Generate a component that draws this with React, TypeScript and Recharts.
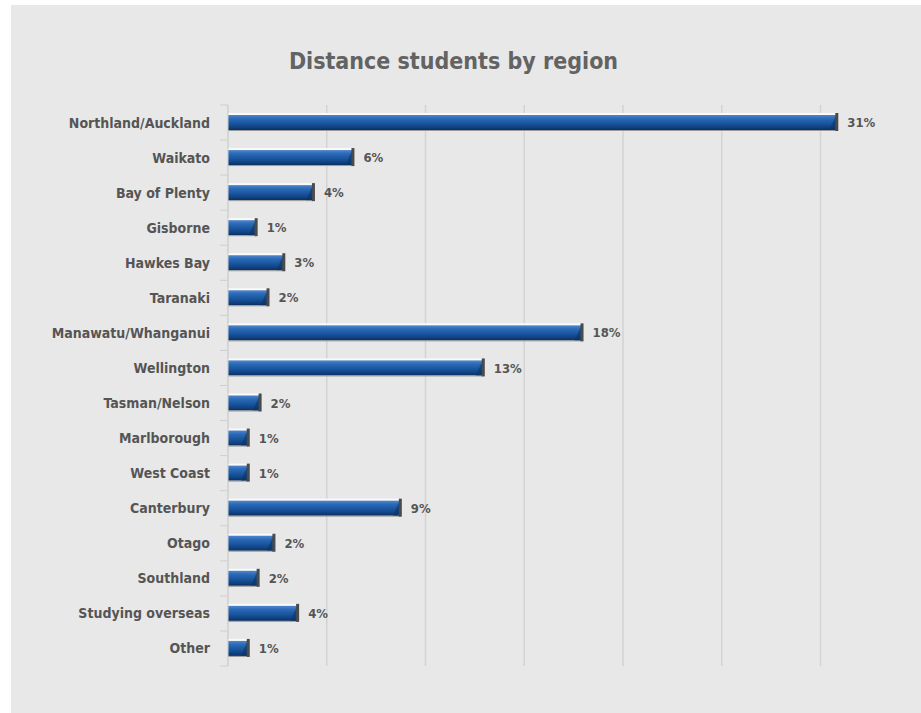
import React from 'react';
import { BarChart, Bar, XAxis, YAxis, CartesianGrid, LabelList } from 'recharts';

const regions = [
  'Northland/Auckland',
  'Waikato',
  'Bay of Plenty',
  'Gisborne',
  'Hawkes Bay',
  'Taranaki',
  'Manawatu/Whanganui',
  'Wellington',
  'Tasman/Nelson',
  'Marlborough',
  'West Coast',
  'Canterbury',
  'Otago',
  'Southland',
  'Studying overseas',
  'Other',
];

// share of distance students, % (bar lengths)
const shares = [30.8, 6.3, 4.3, 1.4, 2.8, 2.0, 17.9, 12.9, 1.6, 1.0, 1.0, 8.7, 2.3, 1.5, 3.5, 1.0];

// printed labels
const shareLabels = ['31%', '6%', '4%', '1%', '3%', '2%', '18%', '13%', '2%', '1%', '1%', '9%', '2%', '2%', '4%', '1%'];

const gridTicks = [0, 5, 10, 15, 20, 25, 30];

const data = regions.map((region, i) => ({ region, share: shares[i], label: shareLabels[i] }));

const FONT = '"Liberation Sans Narrow", "Arial Narrow", "DejaVu Sans Condensed", sans-serif';
const BAND = 35.06;

const BevelBar = (props: any) => {
  const { x, y, width, height } = props;
  if (width <= 0) return null;
  const cap = 3;
  return (
    <g>
      <rect x={x} y={y - 2} width={width} height={2} fill="#fafafa" />
      <rect x={x} y={y} width={width} height={height} fill="url(#barGrad)" />
      <rect x={x} y={y + height} width={width} height={1} fill="#9a9a9a" />
      <polygon
        points={`${x + width - 7},${y + height} ${x + width},${y} ${x + width},${y + height}`}
        fill="#0b3566"
        opacity={0.6}
      />
      <rect x={x + width - 1} y={y - 2} width={cap} height={height + 3} fill="#4a4a4a" />
    </g>
  );
};

const RegionTick = (props: any) => {
  const { x, y, payload, index } = props;
  const axisX = x + 18;
  return (
    <g>
      <line x1={axisX - 8} x2={axisX} y1={y - BAND / 2} y2={y - BAND / 2} stroke="#cfcfcf" />
      {index === regions.length - 1 && (
        <line x1={axisX - 8} x2={axisX} y1={y + BAND / 2} y2={y + BAND / 2} stroke="#cfcfcf" />
      )}
      <text
        x={x}
        y={y}
        dy={5}
        textAnchor="end"
        fill="#555"
        fontFamily={FONT}
        fontWeight="bold"
        fontSize={14}
      >
        {payload.value}
      </text>
    </g>
  );
};

export default function App() {
  return (
    <div style={{ width: 921, height: 713, background: '#fff', position: 'relative' }}>
      <style>{'body{margin:0}'}</style>
      <div
        style={{
          position: 'absolute',
          left: 11,
          top: 5,
          width: 910,
          height: 708,
          background: '#e8e8e8',
          overflow: 'hidden',
        }}
      >
        <div
          style={{
            position: 'absolute',
            top: 43,
            left: 0,
            width: 885,
            textAlign: 'center',
            fontFamily: FONT,
            fontWeight: 'bold',
            fontSize: 23,
            color: '#636363',
          }}
        >
          Distance students by region
        </div>
        {/* the plot runs past the panel's right edge so the domain-end gridline is clipped */}
        <BarChart
          width={928}
          height={708}
          data={data}
          layout="vertical"
          margin={{ top: 100, right: 0, bottom: 47, left: 7 }}
          barCategoryGap="58%"
        >
          <defs>
            <linearGradient id="barGrad" x1="0" y1="0" x2="0" y2="1">
              <stop offset="0%" stopColor="#4f86cc" />
              <stop offset="25%" stopColor="#2a69b5" />
              <stop offset="55%" stopColor="#1a56a0" />
              <stop offset="85%" stopColor="#0f3f7c" />
              <stop offset="100%" stopColor="#0a2e5c" />
            </linearGradient>
          </defs>
          <CartesianGrid horizontal={false} vertical stroke="#d3d3d3" strokeWidth={1.5} />
          <XAxis type="number" domain={[0, 36]} ticks={gridTicks} hide />
          <YAxis
            type="category"
            dataKey="region"
            width={210}
            axisLine={{ stroke: '#d3d3d3' }}
            tickLine={false}
            tickSize={0}
            tickMargin={18}
            interval={0}
            tick={<RegionTick />}
          />
          <Bar dataKey="share" shape={<BevelBar />} isAnimationActive={false} barSize={15}>
            <LabelList
              dataKey="label"
              position="right"
              offset={11}
              fill="#555"
              fontFamily={FONT}
              fontWeight="bold"
              fontSize={13}
            />
          </Bar>
        </BarChart>
      </div>
    </div>
  );
}
